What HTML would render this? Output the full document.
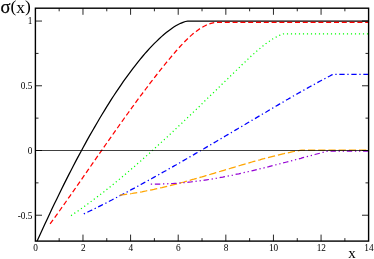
<!DOCTYPE html>
<html><head><meta charset="utf-8"><style>
html,body{margin:0;padding:0;background:#fff;}
svg{display:block;font-family:"Liberation Serif",serif;}
</style></head><body>
<svg width="374" height="259" viewBox="0 0 374 259">
<rect width="374" height="259" fill="#fff"/>
<filter id="g" x="-5%" y="-5%" width="110%" height="110%" color-interpolation-filters="sRGB"><feColorMatrix type="saturate" values="0"/></filter>
<clipPath id="c"><rect x="35.4" y="8.2" width="333.2" height="232.9"/></clipPath>
<g fill="none" stroke-linejoin="round" clip-path="url(#c)" stroke-width="1.25">
<polyline points="33.0,250.3 35.4,245.0 37.7,239.7 40.1,234.4 42.5,229.2 44.9,224.1 47.3,218.9 49.6,213.9 52.0,208.8 54.4,203.8 56.8,198.9 59.2,194.0 61.5,189.2 63.9,184.4 66.3,179.6 68.7,174.9 71.1,170.3 73.4,165.7 75.8,161.1 78.2,156.6 80.6,152.2 83.0,147.8 85.4,143.4 87.7,139.1 90.1,134.9 92.5,130.7 94.9,126.6 97.3,122.5 99.6,118.5 102.0,114.5 104.4,110.6 106.8,106.7 109.2,102.9 111.5,99.2 113.9,95.5 116.3,91.9 118.7,88.4 121.1,84.9 123.4,81.4 125.8,78.1 128.2,74.8 130.6,71.6 133.0,68.4 135.4,65.3 137.7,62.3 140.1,59.4 142.5,56.5 144.9,53.7 147.3,51.0 149.6,48.4 152.0,45.9 154.4,43.4 156.8,41.1 159.2,38.8 161.5,36.6 163.9,34.5 166.3,32.6 168.7,30.7 171.1,29.0 173.4,27.3 175.8,25.8 178.2,24.5 180.6,23.3 183.0,22.3 185.4,21.5 187.7,21.1 188.1,21.1 368.6,21.1" stroke="#000"/>
<polyline points="50.1,223.9 52.1,221.1 54.1,218.4 56.1,215.6 58.1,212.8 60.1,210.0 62.1,207.1 64.1,204.3 66.1,201.5 68.1,198.6 70.1,195.8 72.1,192.9 74.1,190.1 76.1,187.2 78.1,184.3 80.1,181.5 82.1,178.6 84.1,175.7 86.1,172.8 88.1,169.9 90.1,167.1 92.1,164.2 94.1,161.3 96.1,158.4 98.1,155.5 100.1,152.7 102.1,149.8 104.1,146.9 106.1,144.0 108.1,141.2 110.1,138.3 112.1,135.5 114.1,132.6 116.1,129.8 118.1,127.0 120.1,124.1 122.1,121.3 124.1,118.5 126.1,115.7 128.1,113.0 130.1,110.2 132.1,107.4 134.1,104.7 136.1,101.9 138.1,99.2 140.1,96.5 142.1,93.8 144.1,91.2 146.1,88.5 148.1,85.9 150.1,83.2 152.1,80.6 154.1,78.0 156.1,75.5 158.1,72.9 160.1,70.4 162.1,67.9 164.1,65.4 166.1,62.9 168.1,60.5 170.1,58.1 172.1,55.7 174.1,53.3 176.1,51.0 178.1,48.7 180.1,46.5 182.1,44.4 184.1,42.3 186.1,40.2 188.1,38.3 190.1,36.4 192.1,34.6 194.1,33.0 196.1,31.4 198.1,29.9 200.1,28.5 202.1,27.3 204.1,26.2 206.1,25.2 208.1,24.4 210.1,23.7 212.1,23.1 214.1,22.6 216.1,22.3 218.1,22.3 220.1,22.3 222.1,22.3 224.1,22.3 226.1,22.3 228.1,22.3 230.1,22.4 232.0,22.3 368.6,22.3" stroke="#f00" stroke-dasharray="5.0,2.8"/>
<polyline points="71.0,215.6 72.0,215.0 73.0,214.3 74.0,213.6 75.0,212.9 76.0,212.3 77.0,211.6 78.0,210.9 79.0,210.2 80.0,209.5 81.0,208.8 82.0,208.1 83.0,207.4 84.0,206.7 85.0,205.9 86.0,205.2 87.0,204.5 88.0,203.8 89.0,203.0 90.0,202.3 91.0,201.6 92.0,200.8 93.0,200.1 94.0,199.3 95.0,198.6 96.0,197.8 97.0,197.1 98.0,196.3 99.0,195.5 100.0,194.8 101.0,194.0 102.0,193.2 103.0,192.4 104.0,191.7 105.0,190.9 106.0,190.1 107.0,189.3 108.0,188.5 109.0,187.7 110.0,186.9 111.0,186.1 112.0,185.3 113.0,184.5 114.0,183.7 115.0,182.8 116.0,182.0 117.0,181.2 118.0,180.4 119.0,179.6 120.0,178.7 121.0,177.9 122.0,177.1 123.0,176.2 124.0,175.4 125.0,174.5 126.0,173.7 127.0,172.8 128.0,172.0 129.0,171.1 130.0,170.3 131.0,169.4 132.0,168.6 133.0,167.7 134.0,166.8 135.0,166.0 136.0,165.1 137.0,164.2 138.0,163.3 139.0,162.5 140.0,161.6 141.0,160.7 142.0,159.8 143.0,158.9 144.0,158.0 145.0,157.2 146.0,156.3 147.0,155.4 148.0,154.5 149.0,153.6 150.0,152.7 151.0,151.8 152.0,150.9 153.0,150.0 154.0,149.1 155.0,148.1 156.0,147.2 157.0,146.3 158.0,145.4 159.0,144.5 160.0,143.6 161.0,142.6 162.0,141.7 163.0,140.8 164.0,139.9 165.0,138.9 166.0,138.0 167.0,137.1 168.0,136.2 169.0,135.2 170.0,134.3 171.0,133.3 172.0,132.4 173.0,131.5 174.0,130.5 175.0,129.6 176.0,128.6 177.0,127.7 178.0,126.8 179.0,125.8 180.0,124.9 181.0,123.9 182.0,123.0 183.0,122.0 184.0,121.1 185.0,120.1 186.0,119.2 187.0,118.2 188.0,117.2 189.0,116.3 190.0,115.3 191.0,114.4 192.0,113.4 193.0,112.4 194.0,111.5 195.0,110.5 196.0,109.6 197.0,108.6 198.0,107.6 199.0,106.7 200.0,105.7 201.0,104.7 202.0,103.8 203.0,102.8 204.0,101.8 205.0,100.8 206.0,99.9 207.0,98.9 208.0,97.9 209.0,97.0 210.0,96.0 211.0,95.0 212.0,94.0 213.0,93.1 214.0,92.1 215.0,91.1 216.0,90.2 217.0,89.2 218.0,88.2 219.0,87.2 220.0,86.3 221.0,85.3 222.0,84.3 223.0,83.3 224.0,82.4 225.0,81.4 226.0,80.4 227.0,79.4 228.0,78.5 229.0,77.5 230.0,76.5 231.0,75.5 232.0,74.6 233.0,73.6 234.0,72.6 235.0,71.6 236.0,70.7 237.0,69.7 238.0,68.7 239.0,67.8 240.0,66.8 241.0,65.8 242.0,64.8 243.0,63.9 244.0,62.9 245.0,62.0 246.0,61.0 247.0,60.0 248.0,59.1 249.0,58.2 250.0,57.2 251.0,56.3 252.0,55.4 253.0,54.5 254.0,53.6 255.0,52.7 256.0,51.8 257.0,50.9 258.0,50.1 259.0,49.2 260.0,48.4 261.0,47.5 262.0,46.7 263.0,45.9 264.0,45.1 265.0,44.4 266.0,43.6 267.0,42.9 268.0,42.2 269.0,41.5 270.0,40.8 271.0,40.1 272.0,39.5 273.0,38.8 274.0,38.2 275.0,37.6 276.0,37.1 277.0,36.5 278.0,36.0 279.0,35.6 280.0,35.1 281.0,34.7 282.0,34.4 283.0,34.0 284.0,33.8 285.0,33.8 285.5,33.8 368.6,33.8" stroke="#0f0" stroke-dasharray="1.15,2.85"/>
<polyline points="83.8,213.9 85.8,213.0 87.8,212.0 89.8,211.0 91.8,210.1 93.8,209.1 95.8,208.1 97.8,207.1 99.8,206.1 101.8,205.1 103.8,204.1 105.8,203.1 107.8,202.0 109.8,201.0 111.8,200.0 113.8,198.9 115.8,197.9 117.8,196.9 119.8,195.8 121.8,194.8 123.8,193.7 125.8,192.6 127.8,191.6 129.8,190.5 131.8,189.4 133.8,188.4 135.8,187.3 137.8,186.2 139.8,185.1 141.8,184.0 143.8,182.9 145.8,181.8 147.8,180.7 149.8,179.6 151.8,178.5 153.8,177.4 155.8,176.3 157.8,175.2 159.8,174.0 161.8,172.9 163.8,171.8 165.8,170.7 167.8,169.5 169.8,168.4 171.8,167.3 173.8,166.1 175.8,165.0 177.8,163.8 179.8,162.7 181.8,161.5 183.8,160.4 185.8,159.2 187.8,158.1 189.8,156.9 191.8,155.7 193.8,154.6 195.8,153.4 197.8,152.3 199.8,151.1 201.8,149.9 203.8,148.8 205.8,147.6 207.8,146.4 209.8,145.2 211.8,144.1 213.8,142.9 215.8,141.7 217.8,140.5 219.8,139.4 221.8,138.2 223.8,137.0 225.8,135.8 227.8,134.6 229.8,133.5 231.8,132.3 233.8,131.1 235.8,129.9 237.8,128.7 239.8,127.5 241.8,126.4 243.8,125.2 245.8,124.0 247.8,122.8 249.8,121.6 251.8,120.4 253.8,119.3 255.8,118.1 257.8,116.9 259.8,115.7 261.8,114.5 263.8,113.3 265.8,112.2 267.8,111.0 269.8,109.8 271.8,108.6 273.8,107.5 275.8,106.3 277.8,105.1 279.8,103.9 281.8,102.8 283.8,101.6 285.8,100.4 287.8,99.3 289.8,98.1 291.8,97.0 293.8,95.8 295.8,94.7 297.8,93.5 299.8,92.4 301.8,91.3 303.8,90.1 305.8,89.0 307.8,87.9 309.8,86.8 311.8,85.7 313.8,84.6 315.8,83.5 317.8,82.4 319.8,81.3 321.8,80.2 323.8,79.1 325.8,78.1 327.8,77.0 329.8,76.0 331.8,74.9 333.8,74.4 334.5,74.4 368.6,74.4" stroke="#00f" stroke-dasharray="1.3,2.7,5.3,2.7"/>
<polyline points="119.9,195.1 121.9,194.8 123.9,194.6 125.9,194.3 127.9,194.0 129.9,193.8 131.9,193.5 133.9,193.1 135.9,192.8 137.9,192.5 139.9,192.1 141.9,191.8 143.9,191.4 145.9,191.0 147.9,190.6 149.9,190.2 151.9,189.8 153.9,189.4 155.9,188.9 157.9,188.5 159.9,188.0 161.9,187.6 163.9,187.1 165.9,186.6 167.9,186.1 169.9,185.6 171.9,185.1 173.9,184.6 175.9,184.1 177.9,183.6 179.9,183.1 181.9,182.5 183.9,182.0 185.9,181.4 187.9,180.9 189.9,180.3 191.9,179.7 193.9,179.2 195.9,178.6 197.9,178.0 199.9,177.4 201.9,176.9 203.9,176.3 205.9,175.7 207.9,175.1 209.9,174.5 211.9,173.9 213.9,173.3 215.9,172.7 217.9,172.1 219.9,171.5 221.9,170.9 223.9,170.3 225.9,169.7 227.9,169.1 229.9,168.5 231.9,167.9 233.9,167.3 235.9,166.7 237.9,166.1 239.9,165.5 241.9,164.9 243.9,164.3 245.9,163.8 247.9,163.2 249.9,162.6 251.9,162.0 253.9,161.4 255.9,160.9 257.9,160.3 259.9,159.8 261.9,159.2 263.9,158.7 265.9,158.1 267.9,157.6 269.9,157.1 271.9,156.6 273.9,156.1 275.9,155.6 277.9,155.1 279.9,154.6 281.9,154.1 283.9,153.7 285.9,153.2 287.9,152.8 289.9,152.4 291.9,151.9 293.9,151.5 295.9,151.1 297.9,150.8 299.9,150.4 301.9,150.1 303.9,150.1 305.9,150.1 306.0,150.1 368.6,150.1" stroke="#ffa500" stroke-dasharray="7.3,2.9"/>
<polyline points="150.8,184.0 152.8,184.0 154.8,184.0 156.8,184.0 158.8,184.0 160.8,184.0 162.8,183.9 164.8,183.9 166.8,183.8 168.8,183.7 170.8,183.6 172.8,183.5 174.8,183.4 176.8,183.3 178.8,183.1 180.8,182.9 182.8,182.8 184.8,182.6 186.8,182.4 188.8,182.2 190.8,182.0 192.8,181.7 194.8,181.5 196.8,181.2 198.8,181.0 200.8,180.7 202.8,180.4 204.8,180.1 206.8,179.8 208.8,179.5 210.8,179.2 212.8,178.8 214.8,178.5 216.8,178.2 218.8,177.8 220.8,177.4 222.8,177.1 224.8,176.7 226.8,176.3 228.8,175.9 230.8,175.5 232.8,175.1 234.8,174.6 236.8,174.2 238.8,173.8 240.8,173.3 242.8,172.9 244.8,172.4 246.8,172.0 248.8,171.5 250.8,171.1 252.8,170.6 254.8,170.1 256.8,169.6 258.8,169.1 260.8,168.7 262.8,168.2 264.8,167.7 266.8,167.2 268.8,166.7 270.8,166.1 272.8,165.6 274.8,165.1 276.8,164.6 278.8,164.1 280.8,163.6 282.8,163.0 284.8,162.5 286.8,162.0 288.8,161.5 290.8,160.9 292.8,160.4 294.8,159.9 296.8,159.3 298.8,158.8 300.8,158.3 302.8,157.7 304.8,157.2 306.8,156.7 308.8,156.1 310.8,155.6 312.8,155.1 314.8,154.5 316.8,154.0 318.8,153.5 320.8,153.0 322.8,152.4 324.8,151.9 326.8,151.4 327.6,151.2 368.6,151.2" stroke="#9400d3" stroke-dasharray="1.3,2.75,5.4,2.75,1.3,2.8"/>
<line x1="35.4" y1="150.5" x2="368.6" y2="150.5" stroke="#000" stroke-width="0.75"/>
</g>
<g stroke="#000" stroke-width="1.4" fill="none">
<rect x="35.4" y="8.2" width="333.2" height="232.9"/>
</g><g stroke="#000" stroke-width="0.85" fill="none">
<path d="M59.16 8.2v3.1 M59.16 241.2v-3.1"/>
<path d="M82.97 8.2v6.6 M82.97 241.2v-6.6"/>
<path d="M106.78 8.2v3.1 M106.78 241.2v-3.1"/>
<path d="M130.59 8.2v6.6 M130.59 241.2v-6.6"/>
<path d="M154.40 8.2v3.1 M154.40 241.2v-3.1"/>
<path d="M178.21 8.2v6.6 M178.21 241.2v-6.6"/>
<path d="M202.02 8.2v3.1 M202.02 241.2v-3.1"/>
<path d="M225.83 8.2v6.6 M225.83 241.2v-6.6"/>
<path d="M249.64 8.2v3.1 M249.64 241.2v-3.1"/>
<path d="M273.45 8.2v6.6 M273.45 241.2v-6.6"/>
<path d="M297.26 8.2v3.1 M297.26 241.2v-3.1"/>
<path d="M321.07 8.2v6.6 M321.07 241.2v-6.6"/>
<path d="M344.88 8.2v3.1 M344.88 241.2v-3.1"/>
<path d="M35.4 215.22h6.6 M368.6 215.22h-6.6"/>
<path d="M35.4 182.86h3.1 M368.6 182.86h-3.1"/>
<path d="M35.4 150.50h6.6 M368.6 150.50h-6.6"/>
<path d="M35.4 118.14h3.1 M368.6 118.14h-3.1"/>
<path d="M35.4 85.78h6.6 M368.6 85.78h-6.6"/>
<path d="M35.4 53.41h3.1 M368.6 53.41h-3.1"/>
<path d="M35.4 21.05h6.6 M368.6 21.05h-6.6"/>
</g>
<g font-size="10px" fill="#000" filter="url(#g)">
<text transform="translate(35.6,250.9) scale(0.93,1)" text-anchor="middle">0</text>
<text transform="translate(83.2,250.9) scale(0.93,1)" text-anchor="middle">2</text>
<text transform="translate(130.8,250.9) scale(0.93,1)" text-anchor="middle">4</text>
<text transform="translate(178.4,250.9) scale(0.93,1)" text-anchor="middle">6</text>
<text transform="translate(226.0,250.9) scale(0.93,1)" text-anchor="middle">8</text>
<text transform="translate(273.6,250.9) scale(0.93,1)" text-anchor="middle">10</text>
<text transform="translate(321.3,250.9) scale(0.93,1)" text-anchor="middle">12</text>
<text transform="translate(368.9,250.9) scale(0.93,1)" text-anchor="middle">14</text>
<text transform="translate(32.4,218.6) scale(0.93,1)" text-anchor="end">-0.5</text>
<text transform="translate(32.4,153.8) scale(0.93,1)" text-anchor="end">0</text>
<text transform="translate(32.4,89.1) scale(0.93,1)" text-anchor="end">0.5</text>
<text transform="translate(32.4,24.4) scale(0.93,1)" text-anchor="end">1</text>
</g>
<g filter="url(#g)"><text x="0.6" y="12.7" font-size="18.5px" stroke="#000" stroke-width="0.25">σ</text><text font-size="17.5px"><tspan x="10.4" y="11.8">(</tspan><tspan x="16.23" y="12.7">x</tspan><tspan x="24.98" y="11.8">)</tspan></text></g>
<text filter="url(#g)" x="348.3" y="257.5" font-size="15px">x</text>
</svg></body></html>
